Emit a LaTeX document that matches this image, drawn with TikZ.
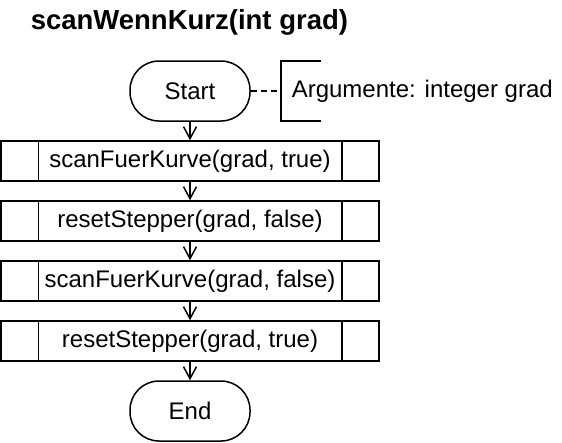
\documentclass[tikz,border=0pt]{standalone}
\usepackage{fontspec}
\setmainfont{Liberation Sans}
\usetikzlibrary{arrows.meta,positioning}

\begin{document}
\begin{tikzpicture}[x=1pt,y=-1pt,line width=1.5pt,
  proc/.style={draw,minimum width=378pt,minimum height=40pt,inner sep=0pt,font=\fontsize{24}{28}\selectfont},
  term/.style={draw,rounded corners=29pt,minimum width=120pt,minimum height=60pt,inner sep=0pt,font=\fontsize{24}{28}\selectfont},
  flow/.style={-{Straight Barb[length=12pt,width=13pt,line width=1.5pt]}}]
  \useasboundingbox (0,0) rectangle (562,442);

  % Title
  \node[anchor=west,inner sep=0pt,font=\fontsize{27.5}{32}\selectfont\bfseries] (title) at (30,22) {scanWennKurz(int grad)};

  % Terminators
  \node[term] (start) at (190,91) {Start};
  \node[term] (end) at (190,411) {End};

  % Calls
  \node[proc] (p1) at (190,161) {scanFuerKurve(grad, true)};
  \node[proc] (p2) at (190,221) {resetStepper(grad, false)};
  \node[proc] (p3) at (190,281) {scanFuerKurve(grad, false)};
  \node[proc] (p4) at (190,341) {resetStepper(grad, true)};
  \foreach \p in {p1,p2,p3,p4} {
    \draw ([xshift=38pt]\p.north west) -- ([xshift=38pt]\p.south west);
    \draw ([xshift=-38pt]\p.north east) -- ([xshift=-38pt]\p.south east);
  }

  % Flow
  \draw[flow] (start) -- (p1);
  \draw[flow] (p1) -- (p2);
  \draw[flow] (p2) -- (p3);
  \draw[flow] (p3) -- (p4);
  \draw[flow] (p4) -- (end);

  % Comment
  \coordinate (brtop) at (281,61);
  \coordinate (brbot) at (281,121);
  \draw ([xshift=40pt]brtop) -- (brtop) -- (brbot) -- ([xshift=40pt]brbot);
  \draw[dash pattern=on 6pt off 4pt] (start.east) -- (start.east -| brtop);
  \node[anchor=west,inner sep=0pt,font=\fontsize{24}{28}\selectfont] (arg) at (291,91) {Argumente: integer grad};

\end{tikzpicture}
\end{document}
